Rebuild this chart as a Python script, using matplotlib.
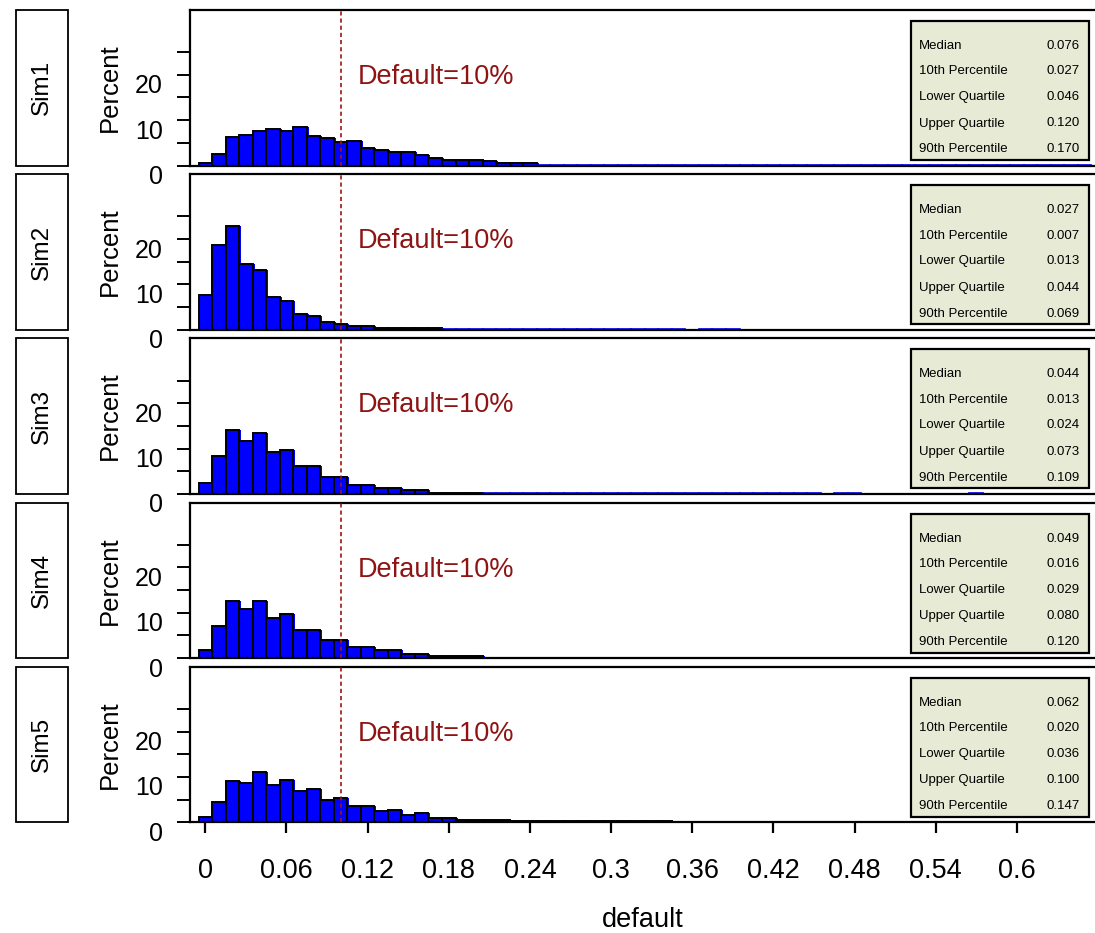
import matplotlib
matplotlib.use("Agg")
import matplotlib.pyplot as plt
import matplotlib.transforms as mtransforms
from matplotlib.patches import Rectangle
import numpy as np

plt.rcParams['font.family'] = ['Liberation Sans', 'DejaVu Sans']

# ---------------- data (percent per bin of width 0.01, bins centred at 0, 0.01, ...) ----------------
sim_names = ["Sim1", "Sim2", "Sim3", "Sim4", "Sim5"]

sim1 = [0.5, 2.5, 6.3, 6.8, 7.6, 8.0, 7.6, 8.5, 6.4, 6.0, 5.2, 5.5, 3.9, 3.4, 3.0, 3.0,
        2.3, 1.7, 1.2, 1.2, 1.2, 0.95, 0.5, 0.5, 0.5,
        0.1, 0.1, 0.1, 0.1, 0.1, 0.1, 0.1, 0.1, 0.1, 0.1, 0.1, 0.1, 0.1, 0.1, 0.1,
        0.1, 0.1, 0.1, 0.1, 0.1, 0.1, 0.1, 0.1, 0.1, 0.1, 0.1, 0.1, 0.1, 0.1, 0.1,
        0.1, 0.1, 0.1, 0.1, 0.1, 0.1, 0.1, 0.1, 0.1, 0.1, 0.1]
sim2 = [7.6, 18.6, 22.8, 14.4, 13.1, 7.3, 6.4, 3.4, 3.0, 1.6, 1.2, 0.75, 0.75,
        0.37, 0.37, 0.37, 0.37, 0.37,
        0.1, 0.1, 0.1, 0.1, 0.1, 0.1, 0.1, 0.1, 0.1, 0.1, 0.1, 0.1, 0.1, 0.1, 0.1,
        0.1, 0.1, 0.1, 0.0, 0.1, 0.1, 0.1]
sim3 = [2.5, 8.4, 14.2, 11.7, 13.4, 9.2, 9.6, 6.2, 6.2, 3.8, 3.8, 2.0, 2.0, 1.2, 1.2,
        0.87, 0.87, 0.3, 0.3, 0.3, 0.3,
        0.1, 0.1, 0.1, 0.1, 0.1, 0.1, 0.1, 0.1, 0.1, 0.1, 0.1, 0.1, 0.1, 0.1, 0.1,
        0.1, 0.1, 0.1, 0.1, 0.1, 0.1, 0.1, 0.1, 0.1, 0.1, 0.0, 0.1, 0.1,
        0.0, 0.0, 0.0, 0.0, 0.0, 0.0, 0.0, 0.0, 0.1]
sim4 = [1.7, 7.1, 12.5, 10.9, 12.5, 8.8, 9.7, 6.2, 6.2, 4.1, 4.1, 2.5, 2.5, 1.7, 1.7,
        0.8, 0.8, 0.5, 0.5, 0.5, 0.5,
        0.12, 0.12, 0.12, 0.12, 0.12, 0.12, 0.12, 0.12, 0.12, 0.12, 0.12, 0.12, 0.12,
        0.12, 0.12, 0.12, 0.12, 0.12, 0.12, 0.12, 0.12, 0.12, 0.12, 0.12, 0.12, 0.12,
        0.12, 0.12, 0.12, 0.12, 0.12, 0.0, 0.12]
sim5 = [1.1, 4.5, 9.1, 8.6, 11.1, 8.3, 9.4, 7.0, 7.3, 4.9, 5.3, 3.6, 3.6, 2.4, 2.8,
        1.5, 2.0, 0.95, 0.95, 0.5, 0.5, 0.5, 0.5,
        0.3, 0.3, 0.3, 0.3, 0.3, 0.3, 0.3, 0.3, 0.3, 0.3, 0.3, 0.3,
        0.1, 0.1, 0.1, 0.1, 0.1, 0.1, 0.1, 0.1, 0.1, 0.1, 0.1, 0.1, 0.1, 0.1, 0.1,
        0.1, 0.1, 0.1, 0.1, 0.1, 0.0, 0.1, 0.0, 0.1, 0.0, 0.1]
sim_values = [sim1, sim2, sim3, sim4, sim5]

stat_labels = ["Median", "10th Percentile", "Lower Quartile", "Upper Quartile", "90th Percentile"]
stat_values = [
    ["0.076", "0.027", "0.046", "0.120", "0.170"],
    ["0.027", "0.007", "0.013", "0.044", "0.069"],
    ["0.044", "0.013", "0.024", "0.073", "0.109"],
    ["0.049", "0.016", "0.029", "0.080", "0.120"],
    ["0.062", "0.020", "0.036", "0.100", "0.147"],
]

x_ticks = [0, 0.06, 0.12, 0.18, 0.24, 0.30, 0.36, 0.42, 0.48, 0.54, 0.60]
x_tick_labels = ["0", "0.06", "0.12", "0.18", "0.24", "0.3", "0.36", "0.42", "0.48", "0.54", "0.6"]
y_ticks = [0, 5, 10, 15, 20, 25]
y_tick_labels = ["0", "", "10", "", "20", ""]
bin_width = 0.01
default_rate = 0.10

# ---------------- layout ----------------
W, H = 1095, 933
fig = plt.figure(figsize=(W / 100, H / 100), dpi=100)


def fx(px):
    return px / W


def fy(py):
    return 1 - py / H


panel_top0 = 10.0
panel_step = 164.2
panel_h = 155.5
ax_left, ax_right = 190, 1095

bar_color = "#0000FF"
line_red = "#A01515"
text_red = "#8E1414"
box_fill = "#E7EAD5"

for i, (name, vals) in enumerate(zip(sim_names, sim_values)):
    top = panel_top0 + i * panel_step
    bottom = top + panel_h
    ax = fig.add_axes([fx(ax_left), fy(bottom), fx(ax_right) - fx(ax_left), panel_h / H])
    ax.set_xlim(-0.0113, 0.6578)
    ax.set_ylim(0, 34.3)

    vals = np.array(vals, dtype=float)
    centers = np.arange(len(vals)) * bin_width
    big = vals >= 0.25
    small = (vals > 0) & ~big

    # slight blue shadow offset to the right
    shadow = mtransforms.offset_copy(ax.transData, fig=fig, x=2, y=0, units='dots')
    ax.bar(centers[big], vals[big], width=bin_width, color=bar_color, linewidth=0,
           transform=shadow, zorder=1)
    ax.bar(centers[big], vals[big], width=bin_width, color=bar_color,
           edgecolor="black", linewidth=1.4, zorder=2)
    ax.bar(centers[small], vals[small], width=bin_width, color=bar_color,
           edgecolor=bar_color, linewidth=1.2, zorder=2)

    ax.axvline(default_rate, color=line_red, linestyle=(0, (2.5, 1.8)), linewidth=1.2, zorder=3)
    ax.text(0.1129, 19.5, "Default=10%", color=text_red, fontsize=19.5,
            ha="left", va="center", zorder=4)

    for s in ["top", "left", "bottom"]:
        ax.spines[s].set_linewidth(1.6)
        ax.spines[s].set_color("black")
    ax.spines["right"].set_visible(False)

    ax.set_yticks(y_ticks)
    ax.set_yticklabels(y_tick_labels, fontsize=18)
    ax.tick_params(axis="y", direction="out", length=9.5, width=1.4, pad=10)
    off = mtransforms.ScaledTranslation(0, -0.09, fig.dpi_scale_trans)
    for lab in ax.get_yticklabels():
        lab.set_transform(lab.get_transform() + off)

    if i == len(sim_names) - 1:
        ax.set_xticks(x_ticks)
        ax.set_xticklabels(x_tick_labels, fontsize=19.5)
        ax.tick_params(axis="x", direction="out", length=8, width=1.6, pad=18)
        ax.set_xlabel("default", fontsize=19.5, labelpad=16)
    else:
        ax.set_xticks([])

    # percent label
    fig.text(fx(110), fy((top + bottom) / 2), "Percent", rotation=90, fontsize=18.5,
             ha="center", va="center")

    # Sim label box
    fig.add_artist(Rectangle((fx(16), fy(bottom)), fx(68) - fx(16), panel_h / H,
                             transform=fig.transFigure, facecolor="white",
                             edgecolor="black", linewidth=1.3))
    fig.text(fx(42), fy((top + bottom) / 2), name, rotation=90, fontsize=17.5,
             ha="center", va="center")

    # stats box
    btop = top + 11
    bbot = bottom - 5.5
    fig.add_artist(Rectangle((fx(911), fy(bbot)), fx(1089) - fx(911), (bbot - btop) / H,
                             transform=fig.transFigure, facecolor=box_fill,
                             edgecolor="black", linewidth=1.6, zorder=5))
    row_offsets = [25, 50.5, 76, 102.5, 128.5]
    for lab, val, ro in zip(stat_labels, stat_values[i], row_offsets):
        fig.text(fx(919), fy(btop + ro), lab, fontsize=9.5, ha="left", va="center", zorder=6)
        fig.text(fx(1080), fy(btop + ro), val, fontsize=9.5, ha="right", va="center", zorder=6)

fig.savefig("out.png", dpi=100)
